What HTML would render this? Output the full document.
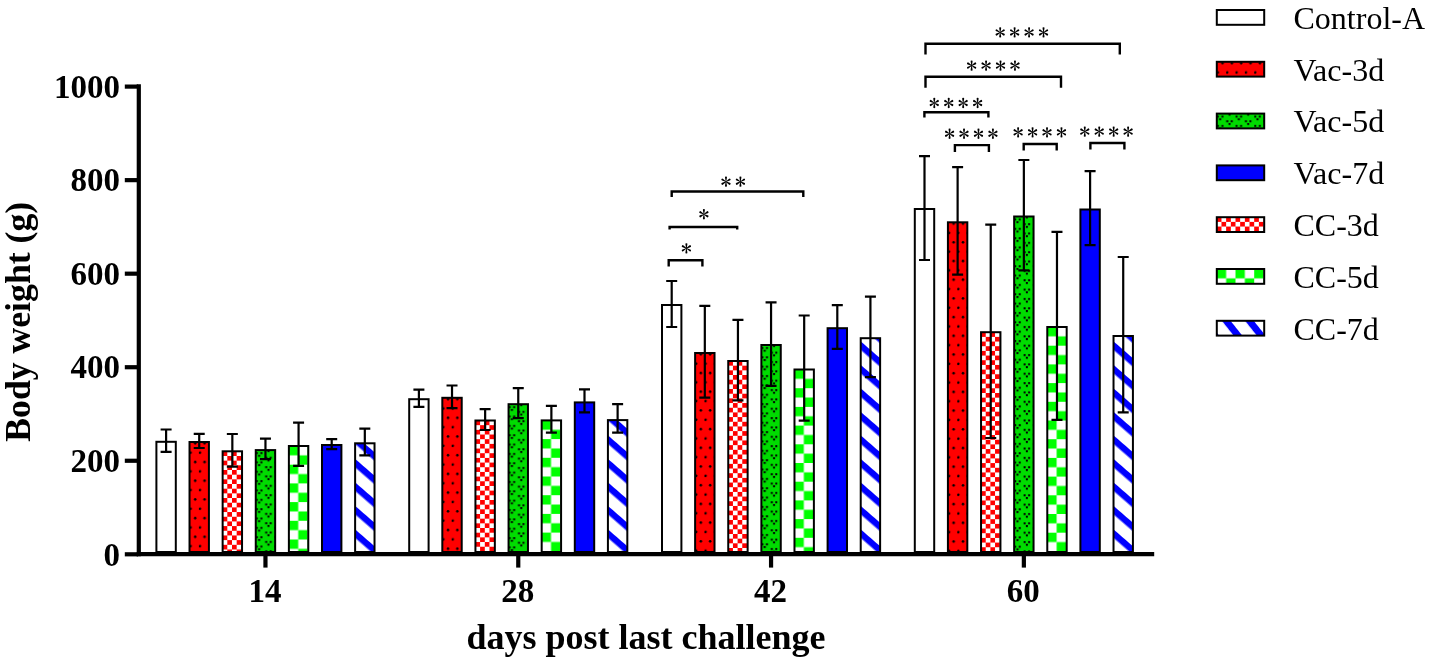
<!DOCTYPE html>
<html><head><meta charset="utf-8"><style>
html,body{margin:0;padding:0;background:#fff;}
svg{display:block;will-change:transform;}
.tk{font-family:"Liberation Serif",serif;font-weight:bold;font-size:33px;}
.ttl{font-family:"Liberation Serif",serif;font-weight:bold;font-size:36px;}
.lg{font-family:"Liberation Serif",serif;font-size:32px;}
.ast{font-family:"Liberation Serif",serif;font-size:28px;}
</style></head><body>
<svg width="1430" height="663" viewBox="0 0 1430 663">
<rect width="1430" height="663" fill="#fff"/>

<defs>
 <g id="ast"><circle r="0.8" fill="#000"/>
  <path id="arm" d="M-0.32 -0.4L-0.95 -3.85A1.0 1.0 0 1 1 0.95 -3.85L0.32 -0.4Z" fill="#000"/>
  <use href="#arm" transform="rotate(60)"/><use href="#arm" transform="rotate(120)"/><use href="#arm" transform="rotate(180)"/><use href="#arm" transform="rotate(240)"/><use href="#arm" transform="rotate(300)"/>
 </g>
 <pattern id="rdots" patternUnits="userSpaceOnUse" width="9.35" height="18.7">
  <rect width="9.35" height="18.7" fill="#ff0000"/>
  <circle cx="5.7" cy="1.3" r="1.3" fill="#000"/>
  <circle cx="1.05" cy="10.65" r="1.3" fill="#000"/>
 </pattern>
 <pattern id="rchk" patternUnits="userSpaceOnUse" width="9.35" height="9.35">
  <rect width="9.35" height="9.35" fill="#ffffff"/>
  <rect width="4.675" height="4.675" fill="#ff0000"/>
  <rect x="4.675" y="4.675" width="4.675" height="4.675" fill="#ff0000"/>
 </pattern>
 <pattern id="gv" patternUnits="userSpaceOnUse" width="18.7" height="9.35">
  <rect width="18.7" height="9.35" fill="#00dc00"/>
  <g fill="#000">
   <rect x="0.10" y="2.00" width="2" height="2"/><rect x="4.60" y="2.00" width="2" height="2"/><rect x="2.35" y="4.70" width="2" height="2"/>
   <rect x="9.45" y="6.68" width="2" height="2"/><rect x="13.95" y="6.68" width="2" height="2"/><rect x="11.70" y="0.03" width="2" height="2"/>
   <rect x="9.45" y="-2.67" width="2" height="2"/><rect x="13.95" y="-2.67" width="2" height="2"/><rect x="11.70" y="9.38" width="2" height="2"/>
  </g>
 </pattern>
 <pattern id="gchk" patternUnits="userSpaceOnUse" width="18.7" height="18.7">
  <rect width="18.7" height="18.7" fill="#ffffff"/>
  <rect width="9.35" height="9.35" fill="#00ff00"/>
  <rect x="9.35" y="9.35" width="9.35" height="9.35" fill="#00ff00"/>
 </pattern>
 <pattern id="stripe" patternUnits="userSpaceOnUse" width="40" height="17.73" patternTransform="rotate(41.02)">
  <rect width="40" height="17.73" fill="#ffffff"/>
  <rect width="40" height="6.41" fill="#0000ff"/>
 </pattern>
 <pattern id="stripeL" patternUnits="userSpaceOnUse" width="40" height="18.17" patternTransform="rotate(51.56)">
  <rect width="40" height="18.17" fill="#ffffff"/>
  <rect width="40" height="6.81" fill="#0000ff"/>
 </pattern>
</defs>
<rect x="156.4" y="441.8" width="19.4" height="110.2" fill="#ffffff" stroke="#000" stroke-width="2.0"/>
<path d="M166.1 429.5V451.9M160.6 429.5H171.6M160.6 451.9H171.6" stroke="#000" stroke-width="2.2" fill="none"/>
<g transform="translate(189.52 442)"><rect x="0" y="0" width="19.4" height="110" fill="url(#rdots)"/></g>
<rect x="189.52" y="442" width="19.4" height="110" fill="none" stroke="#000" stroke-width="2.0"/>
<path d="M199.22 433.9V448M193.72 433.9H204.72M193.72 448H204.72" stroke="#000" stroke-width="2.2" fill="none"/>
<g transform="translate(222.64 451.3)"><rect x="0" y="0" width="19.4" height="100.7" fill="url(#rchk)"/></g>
<rect x="222.64" y="451.3" width="19.4" height="100.7" fill="none" stroke="#000" stroke-width="2.0"/>
<path d="M232.34 434V466.7M226.84 434H237.84M226.84 466.7H237.84" stroke="#000" stroke-width="2.2" fill="none"/>
<g transform="translate(255.76 450.1)"><rect x="0" y="0" width="19.4" height="101.9" fill="url(#gv)"/></g>
<rect x="255.76" y="450.1" width="19.4" height="101.9" fill="none" stroke="#000" stroke-width="2.0"/>
<path d="M265.46 438.6V459.1M259.96 438.6H270.96M259.96 459.1H270.96" stroke="#000" stroke-width="2.2" fill="none"/>
<g transform="translate(288.88 446)"><rect x="0" y="0" width="19.4" height="106" fill="url(#gchk)"/></g>
<rect x="288.88" y="446" width="19.4" height="106" fill="none" stroke="#000" stroke-width="2.0"/>
<path d="M298.58 422.7V465.9M293.08 422.7H304.08M293.08 465.9H304.08" stroke="#000" stroke-width="2.2" fill="none"/>
<rect x="322" y="445" width="19.4" height="107" fill="#0000ff" stroke="#000" stroke-width="2.0"/>
<path d="M331.7 439.1V449.1M326.2 439.1H337.2M326.2 449.1H337.2" stroke="#000" stroke-width="2.2" fill="none"/>
<g transform="translate(354.12 552)"><rect x="1" y="-108.7" width="19.4" height="108.7" fill="url(#stripe)"/></g>
<rect x="355.12" y="443.3" width="19.4" height="108.7" fill="none" stroke="#000" stroke-width="2.0"/>
<path d="M364.82 428.6V455.4M359.32 428.6H370.32M359.32 455.4H370.32" stroke="#000" stroke-width="2.2" fill="none"/>
<rect x="409.2" y="399.2" width="19.4" height="152.8" fill="#ffffff" stroke="#000" stroke-width="2.0"/>
<path d="M418.9 389.7V406.8M413.4 389.7H424.4M413.4 406.8H424.4" stroke="#000" stroke-width="2.2" fill="none"/>
<g transform="translate(442.32 397.8)"><rect x="0" y="0" width="19.4" height="154.2" fill="url(#rdots)"/></g>
<rect x="442.32" y="397.8" width="19.4" height="154.2" fill="none" stroke="#000" stroke-width="2.0"/>
<path d="M452.02 385.5V408.2M446.52 385.5H457.52M446.52 408.2H457.52" stroke="#000" stroke-width="2.2" fill="none"/>
<g transform="translate(475.44 420.5)"><rect x="0" y="0" width="19.4" height="131.5" fill="url(#rchk)"/></g>
<rect x="475.44" y="420.5" width="19.4" height="131.5" fill="none" stroke="#000" stroke-width="2.0"/>
<path d="M485.14 409.1V430M479.64 409.1H490.64M479.64 430H490.64" stroke="#000" stroke-width="2.2" fill="none"/>
<g transform="translate(508.56 404.2)"><rect x="0" y="0" width="19.4" height="147.8" fill="url(#gv)"/></g>
<rect x="508.56" y="404.2" width="19.4" height="147.8" fill="none" stroke="#000" stroke-width="2.0"/>
<path d="M518.26 388.2V418.2M512.76 388.2H523.76M512.76 418.2H523.76" stroke="#000" stroke-width="2.2" fill="none"/>
<g transform="translate(541.68 420.4)"><rect x="0" y="0" width="19.4" height="131.6" fill="url(#gchk)"/></g>
<rect x="541.68" y="420.4" width="19.4" height="131.6" fill="none" stroke="#000" stroke-width="2.0"/>
<path d="M551.38 405.9V432.7M545.88 405.9H556.88M545.88 432.7H556.88" stroke="#000" stroke-width="2.2" fill="none"/>
<rect x="574.8" y="402.4" width="19.4" height="149.6" fill="#0000ff" stroke="#000" stroke-width="2.0"/>
<path d="M584.5 389.4V412.3M579 389.4H590M579 412.3H590" stroke="#000" stroke-width="2.2" fill="none"/>
<g transform="translate(606.92 552)"><rect x="1" y="-131.9" width="19.4" height="131.9" fill="url(#stripe)"/></g>
<rect x="607.92" y="420.1" width="19.4" height="131.9" fill="none" stroke="#000" stroke-width="2.0"/>
<path d="M617.62 404.1V432.7M612.12 404.1H623.12M612.12 432.7H623.12" stroke="#000" stroke-width="2.2" fill="none"/>
<rect x="662" y="305" width="19.4" height="247" fill="#ffffff" stroke="#000" stroke-width="2.0"/>
<path d="M671.7 281V327M666.2 281H677.2M666.2 327H677.2" stroke="#000" stroke-width="2.2" fill="none"/>
<g transform="translate(695.12 353)"><rect x="0" y="0" width="19.4" height="199" fill="url(#rdots)"/></g>
<rect x="695.12" y="353" width="19.4" height="199" fill="none" stroke="#000" stroke-width="2.0"/>
<path d="M704.82 305.8V397.6M699.32 305.8H710.32M699.32 397.6H710.32" stroke="#000" stroke-width="2.2" fill="none"/>
<g transform="translate(728.24 361)"><rect x="0" y="0" width="19.4" height="191" fill="url(#rchk)"/></g>
<rect x="728.24" y="361" width="19.4" height="191" fill="none" stroke="#000" stroke-width="2.0"/>
<path d="M737.94 319.9V400.3M732.44 319.9H743.44M732.44 400.3H743.44" stroke="#000" stroke-width="2.2" fill="none"/>
<g transform="translate(761.36 345)"><rect x="0" y="0" width="19.4" height="207" fill="url(#gv)"/></g>
<rect x="761.36" y="345" width="19.4" height="207" fill="none" stroke="#000" stroke-width="2.0"/>
<path d="M771.06 302.3V385.9M765.56 302.3H776.56M765.56 385.9H776.56" stroke="#000" stroke-width="2.2" fill="none"/>
<g transform="translate(794.48 369.5)"><rect x="0" y="0" width="19.4" height="182.5" fill="url(#gchk)"/></g>
<rect x="794.48" y="369.5" width="19.4" height="182.5" fill="none" stroke="#000" stroke-width="2.0"/>
<path d="M804.18 315.5V420.7M798.68 315.5H809.68M798.68 420.7H809.68" stroke="#000" stroke-width="2.2" fill="none"/>
<rect x="827.6" y="328.2" width="19.4" height="223.8" fill="#0000ff" stroke="#000" stroke-width="2.0"/>
<path d="M837.3 305.1V348.8M831.8 305.1H842.8M831.8 348.8H842.8" stroke="#000" stroke-width="2.2" fill="none"/>
<g transform="translate(859.72 552)"><rect x="1" y="-213.8" width="19.4" height="213.8" fill="url(#stripe)"/></g>
<rect x="860.72" y="338.2" width="19.4" height="213.8" fill="none" stroke="#000" stroke-width="2.0"/>
<path d="M870.42 296.7V377.1M864.92 296.7H875.92M864.92 377.1H875.92" stroke="#000" stroke-width="2.2" fill="none"/>
<rect x="914.8" y="209" width="19.4" height="343" fill="#ffffff" stroke="#000" stroke-width="2.0"/>
<path d="M924.5 156.2V260M919 156.2H930M919 260H930" stroke="#000" stroke-width="2.2" fill="none"/>
<g transform="translate(947.92 222.3)"><rect x="0" y="0" width="19.4" height="329.7" fill="url(#rdots)"/></g>
<rect x="947.92" y="222.3" width="19.4" height="329.7" fill="none" stroke="#000" stroke-width="2.0"/>
<path d="M957.62 167.2V274.7M952.12 167.2H963.12M952.12 274.7H963.12" stroke="#000" stroke-width="2.2" fill="none"/>
<g transform="translate(981.04 332.2)"><rect x="0" y="0" width="19.4" height="219.8" fill="url(#rchk)"/></g>
<rect x="981.04" y="332.2" width="19.4" height="219.8" fill="none" stroke="#000" stroke-width="2.0"/>
<path d="M990.74 224.7V438M985.24 224.7H996.24M985.24 438H996.24" stroke="#000" stroke-width="2.2" fill="none"/>
<g transform="translate(1014.16 216.5)"><rect x="0" y="0" width="19.4" height="335.5" fill="url(#gv)"/></g>
<rect x="1014.16" y="216.5" width="19.4" height="335.5" fill="none" stroke="#000" stroke-width="2.0"/>
<path d="M1023.86 160V270.4M1018.36 160H1029.36M1018.36 270.4H1029.36" stroke="#000" stroke-width="2.2" fill="none"/>
<g transform="translate(1047.28 327)"><rect x="0" y="0" width="19.4" height="225" fill="url(#gchk)"/></g>
<rect x="1047.28" y="327" width="19.4" height="225" fill="none" stroke="#000" stroke-width="2.0"/>
<path d="M1056.98 231.9V419.8M1051.48 231.9H1062.48M1051.48 419.8H1062.48" stroke="#000" stroke-width="2.2" fill="none"/>
<rect x="1080.4" y="209.5" width="19.4" height="342.5" fill="#0000ff" stroke="#000" stroke-width="2.0"/>
<path d="M1090.1 171.2V245.1M1084.6 171.2H1095.6M1084.6 245.1H1095.6" stroke="#000" stroke-width="2.2" fill="none"/>
<g transform="translate(1112.52 552)"><rect x="1" y="-216" width="19.4" height="216" fill="url(#stripe)"/></g>
<rect x="1113.52" y="336" width="19.4" height="216" fill="none" stroke="#000" stroke-width="2.0"/>
<path d="M1123.22 257V412.3M1117.72 257H1128.72M1117.72 412.3H1128.72" stroke="#000" stroke-width="2.2" fill="none"/>
<path d="M138.8 84.3V556.3" stroke="#000" stroke-width="4.2" fill="none"/>
<path d="M136.7 554.2H1154.2" stroke="#000" stroke-width="4.2" fill="none"/>
<path d="M124.8 554.3H138" stroke="#000" stroke-width="4.2" fill="none"/>
<text x="120" y="565.5" text-anchor="end" class="tk">0</text>
<path d="M124.8 460.76H138" stroke="#000" stroke-width="4.2" fill="none"/>
<text x="120" y="471.96" text-anchor="end" class="tk">200</text>
<path d="M124.8 367.22H138" stroke="#000" stroke-width="4.2" fill="none"/>
<text x="120" y="378.42" text-anchor="end" class="tk">400</text>
<path d="M124.8 273.68H138" stroke="#000" stroke-width="4.2" fill="none"/>
<text x="120" y="284.88" text-anchor="end" class="tk">600</text>
<path d="M124.8 180.14H138" stroke="#000" stroke-width="4.2" fill="none"/>
<text x="120" y="191.34" text-anchor="end" class="tk">800</text>
<path d="M124.8 86.6H138" stroke="#000" stroke-width="4.2" fill="none"/>
<text x="120" y="97.8" text-anchor="end" class="tk">1000</text>
<path d="M265.46 554V567.6" stroke="#000" stroke-width="4.2" fill="none"/>
<text x="264.96" y="602.3" text-anchor="middle" class="tk">14</text>
<path d="M518.26 554V567.6" stroke="#000" stroke-width="4.2" fill="none"/>
<text x="517.76" y="602.3" text-anchor="middle" class="tk">28</text>
<path d="M771.06 554V567.6" stroke="#000" stroke-width="4.2" fill="none"/>
<text x="770.56" y="602.3" text-anchor="middle" class="tk">42</text>
<path d="M1023.86 554V567.6" stroke="#000" stroke-width="4.2" fill="none"/>
<text x="1023.36" y="602.3" text-anchor="middle" class="tk">60</text>
<text x="646" y="648.5" text-anchor="middle" class="ttl">days post last challenge</text>
<text transform="translate(30 321.8) rotate(-90)" x="0" y="0" text-anchor="middle" class="ttl" style="font-size:35.7px">Body weight (g)</text>
<path d="M671.7 196.9V191.5H803.3V196.9" stroke="#000" stroke-width="2.4" fill="none"/>
<use href="#ast" transform="translate(725.98 181.7)"/>
<use href="#ast" transform="translate(740.43 181.7)"/>
<path d="M669.6 229.6V227H737.2V229.6" stroke="#000" stroke-width="2.4" fill="none"/>
<use href="#ast" transform="translate(703.9 214.25)"/>
<path d="M668.7 266.6V260.2H702.4V266.6" stroke="#000" stroke-width="2.4" fill="none"/>
<use href="#ast" transform="translate(686.4 248.3)"/>
<path d="M925.5 54.6V43.7H1119.8V54.6" stroke="#000" stroke-width="2.4" fill="none"/>
<use href="#ast" transform="translate(1000.18 32.45)"/>
<use href="#ast" transform="translate(1014.62 32.45)"/>
<use href="#ast" transform="translate(1029.08 32.45)"/>
<use href="#ast" transform="translate(1043.53 32.45)"/>
<path d="M925.5 87.8V76.7H1061V87.8" stroke="#000" stroke-width="2.4" fill="none"/>
<use href="#ast" transform="translate(971.62 65.55)"/>
<use href="#ast" transform="translate(986.07 65.55)"/>
<use href="#ast" transform="translate(1000.52 65.55)"/>
<use href="#ast" transform="translate(1014.97 65.55)"/>
<path d="M924.4 117.5V112.3H988.4V117.5" stroke="#000" stroke-width="2.4" fill="none"/>
<use href="#ast" transform="translate(934.28 103)"/>
<use href="#ast" transform="translate(948.73 103)"/>
<use href="#ast" transform="translate(963.18 103)"/>
<use href="#ast" transform="translate(977.62 103)"/>
<path d="M954.9 152V145.1H988.9V152" stroke="#000" stroke-width="2.4" fill="none"/>
<use href="#ast" transform="translate(949.58 133.75)"/>
<use href="#ast" transform="translate(964.02 133.75)"/>
<use href="#ast" transform="translate(978.48 133.75)"/>
<use href="#ast" transform="translate(992.92 133.75)"/>
<path d="M1023.7 150.4V144H1056.7V150.4" stroke="#000" stroke-width="2.4" fill="none"/>
<use href="#ast" transform="translate(1018.12 132.3)"/>
<use href="#ast" transform="translate(1032.58 132.3)"/>
<use href="#ast" transform="translate(1047.02 132.3)"/>
<use href="#ast" transform="translate(1061.47 132.3)"/>
<path d="M1090.4 149.6V143H1124.4V149.6" stroke="#000" stroke-width="2.4" fill="none"/>
<use href="#ast" transform="translate(1084.78 131.55)"/>
<use href="#ast" transform="translate(1099.23 131.55)"/>
<use href="#ast" transform="translate(1113.67 131.55)"/>
<use href="#ast" transform="translate(1128.12 131.55)"/>
<rect x="1216.8" y="10" width="47.4" height="14.8" fill="#ffffff" stroke="#000" stroke-width="2.0"/>
<text x="1293.5" y="28.8" class="lg">Control-A</text>
<g transform="translate(1216.8 61.8)"><rect x="0" y="0" width="47.4" height="14.8" fill="url(#rdots)"/></g>
<rect x="1216.8" y="61.8" width="47.4" height="14.8" fill="none" stroke="#000" stroke-width="2.0"/>
<text x="1293.5" y="80.6" class="lg">Vac-3d</text>
<g transform="translate(1216.8 113.6)"><rect x="0" y="0" width="47.4" height="14.8" fill="url(#gv)"/></g>
<rect x="1216.8" y="113.6" width="47.4" height="14.8" fill="none" stroke="#000" stroke-width="2.0"/>
<text x="1293.5" y="132.4" class="lg">Vac-5d</text>
<rect x="1216.8" y="165.4" width="47.4" height="14.8" fill="#0000ff" stroke="#000" stroke-width="2.0"/>
<text x="1293.5" y="184.2" class="lg">Vac-7d</text>
<g transform="translate(1216.8 217.2)"><rect x="0" y="0" width="47.4" height="14.8" fill="url(#rchk)"/></g>
<rect x="1216.8" y="217.2" width="47.4" height="14.8" fill="none" stroke="#000" stroke-width="2.0"/>
<text x="1293.5" y="236" class="lg">CC-3d</text>
<g transform="translate(1216.8 269)"><rect x="0" y="0" width="47.4" height="14.8" fill="url(#gchk)"/></g>
<rect x="1216.8" y="269" width="47.4" height="14.8" fill="none" stroke="#000" stroke-width="2.0"/>
<text x="1293.5" y="287.8" class="lg">CC-5d</text>
<g transform="translate(1231.4 321.9)"><rect x="-14.6" y="-1.1" width="47.4" height="14.8" fill="url(#stripeL)"/></g>
<rect x="1216.8" y="320.8" width="47.4" height="14.8" fill="none" stroke="#000" stroke-width="2"/>
<text x="1293.5" y="339.6" class="lg">CC-7d</text>
</svg>
</body></html>
